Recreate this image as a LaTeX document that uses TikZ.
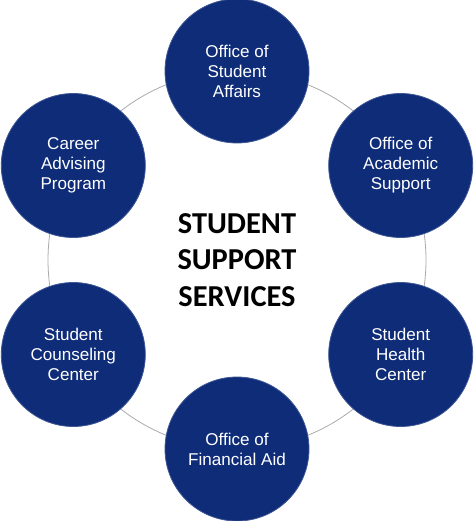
\documentclass[tikz,border=0pt]{standalone}
\usepackage{fontspec}
\setmainfont{Liberation Sans}
\newfontfamily\calibri{Carlito}
\definecolor{navy}{RGB}{14,44,120}
\definecolor{ring}{RGB}{170,170,170}
\begin{document}
\begin{tikzpicture}[x=0.75pt,y=-0.75pt,
  unit/.style={circle,fill=navy,draw=navy!80!white,line width=0.6pt,minimum size=108pt,inner sep=0pt,
    text=white,align=center,font=\fontsize{12.8pt}{15pt}\selectfont},
  title/.style={align=center,font=\calibri\bfseries\fontsize{22.8pt}{27.3pt}\selectfont,text=black}]
\useasboundingbox (0,0) rectangle (474,521);
\coordinate (c) at (237,260);
\draw[ring,line width=0.6pt] (c) circle[radius=141.75pt];
\node[unit] (osa) at (237,71) {Office of\\Student\\Affairs};
\node[unit] (oas) at (400.7,165.5) {Office of\\Academic\\Support};
\node[unit] (shc) at (400.7,354.5) {Student\\Health\\Center};
\node[unit] (ofa) at (237,449) {Office of\\Financial Aid};
\node[unit] (scc) at (73.3,354.5) {Student\\Counseling\\Center};
\node[unit] (cap) at (73.3,165.5) {Career\\Advising\\Program};
\node[title] (t) at (237,260) {STUDENT\\SUPPORT\\SERVICES};
\end{tikzpicture}
\end{document}
